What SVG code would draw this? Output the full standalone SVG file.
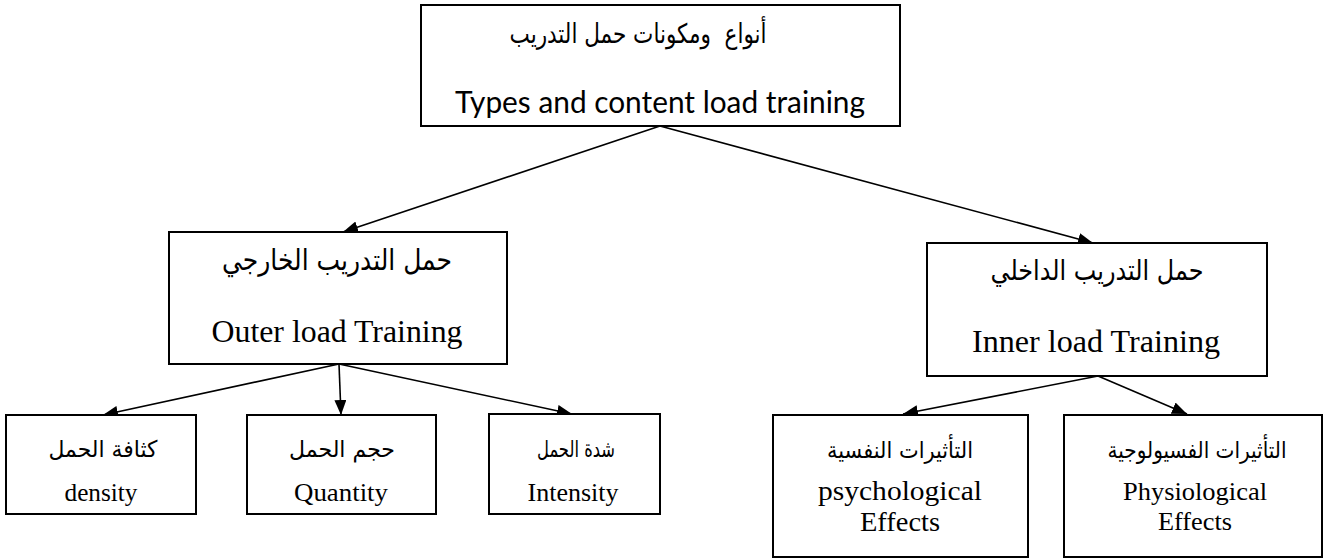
<svg xmlns="http://www.w3.org/2000/svg" width="1324" height="560" viewBox="0 0 1324 560">
  <style>
    .box { fill: #ffffff; stroke: #000000; stroke-width: 2; }
    .ar { font-family: "DejaVu Sans", "Noto Sans", sans-serif; fill: #000; text-anchor: middle; }
    .en { font-family: "Liberation Serif", "Times New Roman", serif; fill: #000; text-anchor: middle; }
    .ensans { font-family: "Lato", "Open Sans", "Liberation Sans", sans-serif; fill: #000; text-anchor: middle; }
    .conn { stroke: #000; stroke-width: 1.6; fill: none; marker-end: url(#arrow); }
  </style>
  <defs>
    <marker id="arrow" markerUnits="userSpaceOnUse" markerWidth="16" markerHeight="12" refX="15" refY="6" orient="auto">
      <path d="M0,0 L15,6 L0,12 z" fill="#000"/>
    </marker>
  </defs>
  <rect width="1324" height="560" fill="#ffffff"/>

  <g id="connectors">
    <line class="conn" x1="660" y1="126" x2="343" y2="232"/>
    <line class="conn" x1="660" y1="126" x2="1093" y2="243"/>
    <line class="conn" x1="339" y1="364" x2="103" y2="415"/>
    <line class="conn" x1="339" y1="364" x2="341" y2="415"/>
    <line class="conn" x1="339" y1="364" x2="572" y2="414"/>
    <line class="conn" x1="1098" y1="376" x2="903" y2="414"/>
    <line class="conn" x1="1098" y1="376" x2="1187" y2="414"/>
  </g>

  <g id="root">
    <rect class="box" x="421" y="5" width="479" height="121"/>
    <text class="ar" x="638" y="43" font-size="27" textLength="257" lengthAdjust="spacingAndGlyphs" xml:space="preserve">أنواع  ومكونات حمل التدريب</text>
    <text class="ensans" x="660" y="113" font-size="30" textLength="410" lengthAdjust="spacingAndGlyphs">Types and content load training</text>
  </g>

  <g id="outer">
    <rect class="box" x="169" y="232" width="338" height="132"/>
    <text class="ar" x="337" y="270" font-size="29" textLength="230" lengthAdjust="spacingAndGlyphs">حمل التدريب الخارجي</text>
    <text class="en" x="337" y="342" font-size="31" textLength="251" lengthAdjust="spacingAndGlyphs">Outer load Training</text>
  </g>

  <g id="inner">
    <rect class="box" x="927" y="243" width="340" height="133"/>
    <text class="ar" x="1097" y="280" font-size="28" textLength="213" lengthAdjust="spacingAndGlyphs">حمل التدريب الداخلي</text>
    <text class="en" x="1096" y="352" font-size="32" textLength="248" lengthAdjust="spacingAndGlyphs">Inner load Training</text>
  </g>

  <g id="density">
    <rect class="box" x="6" y="415" width="190" height="99"/>
    <text class="ar" x="103" y="457" font-size="23" textLength="109" lengthAdjust="spacingAndGlyphs">كثافة الحمل</text>
    <text class="en" x="101" y="501" font-size="25" textLength="73" lengthAdjust="spacingAndGlyphs">density</text>
  </g>

  <g id="quantity">
    <rect class="box" x="247" y="415" width="189" height="99"/>
    <text class="ar" x="342" y="457" font-size="23" textLength="106" lengthAdjust="spacingAndGlyphs">حجم الحمل</text>
    <text class="en" x="341" y="501" font-size="25" textLength="94" lengthAdjust="spacingAndGlyphs">Quantity</text>
  </g>

  <g id="intensity">
    <rect class="box" x="489" y="414" width="171" height="100"/>
    <text class="ar" x="576" y="457" font-size="23" textLength="78" lengthAdjust="spacingAndGlyphs">شدة الحمل</text>
    <text class="en" x="573" y="501" font-size="25" textLength="91" lengthAdjust="spacingAndGlyphs">Intensity</text>
  </g>

  <g id="psychological">
    <rect class="box" x="773" y="415" width="255" height="142"/>
    <text class="ar" x="900" y="458" font-size="23" textLength="146" lengthAdjust="spacingAndGlyphs">التأثيرات النفسية</text>
    <text class="en" x="900" y="500" font-size="28" textLength="164" lengthAdjust="spacingAndGlyphs">psychological</text>
    <text class="en" x="900" y="531" font-size="28" textLength="80" lengthAdjust="spacingAndGlyphs">Effects</text>
  </g>

  <g id="physiological">
    <rect class="box" x="1064" y="415" width="258" height="142"/>
    <text class="ar" x="1197" y="458" font-size="23" textLength="179" lengthAdjust="spacingAndGlyphs">التأثيرات الفسيولوجية</text>
    <text class="en" x="1195" y="500" font-size="26" textLength="144" lengthAdjust="spacingAndGlyphs">Physiological</text>
    <text class="en" x="1195" y="530" font-size="26" textLength="74" lengthAdjust="spacingAndGlyphs">Effects</text>
  </g>
</svg>
